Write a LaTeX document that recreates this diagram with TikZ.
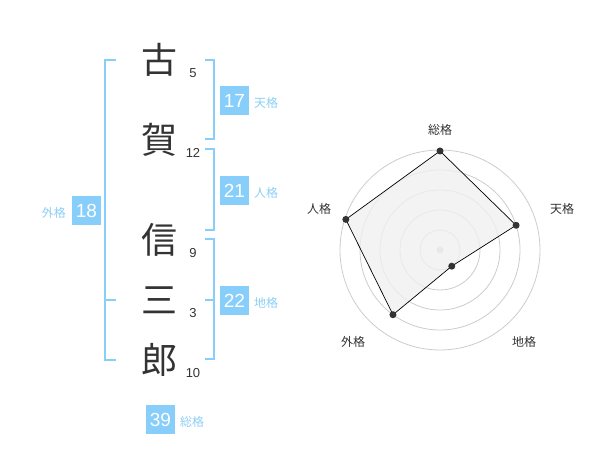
\documentclass[tikz,border=0pt]{standalone}
\usepackage{fontspec}
\usetikzlibrary{calc}
\setmainfont{Liberation Sans}
\newfontfamily\jp{Noto Sans CJK JP}
\definecolor{kblue}{HTML}{87CEFA}
\definecolor{klabel}{HTML}{8CCFF5}
\definecolor{kdark}{HTML}{333333}
\definecolor{kring}{HTML}{CCCCCC}
\definecolor{kfill}{HTML}{F0F0F0}
\tikzset{
  kanji/.style={inner sep=0pt, text=kdark, font=\jp\fontsize{36}{36}\selectfont},
  stroke/.style={inner sep=0pt, text=kdark, font=\fontsize{13}{13}\selectfont},
  sumbox/.style={fill=kblue, text=white, minimum width=29pt, minimum height=29pt, inner sep=0pt, font=\fontsize{19}{19}\selectfont},
  sumlabel/.style={inner sep=0pt, text=klabel, font=\jp\fontsize{12}{12}\selectfont},
  bracket/.style={draw=kblue, line width=2pt},
  ring/.style={draw=kring, line width=0.8pt},
  axislabel/.style={inner sep=0pt, text=kdark, font=\jp\fontsize{12}{12}\selectfont},
  vdot/.style={circle, fill=kdark, inner sep=0pt, minimum size=7pt},
}
\begin{document}
\begin{tikzpicture}[x=1pt,y=-1pt]
\useasboundingbox (0,0) rectangle (600,470);
% kanji
\node[kanji] (k1) at (159,60) {古};
\node[kanji] (k2) at (159,140) {賀};
\node[kanji] (k3) at (159,240) {信};
\node[kanji] (k4) at (159,300) {三};
\node[kanji] (k5) at (159,360) {郎};
% strokes
\node[stroke] (s1) at (193,73) {5};
\node[stroke] (s2) at (193,153) {12};
\node[stroke] (s3) at (193,253) {9};
\node[stroke] (s4) at (193,313) {3};
\node[stroke] (s5) at (193,373) {10};
% brackets
\draw[bracket] (116,60) -- (105,60) -- (105,360) -- (116,360);
\draw[bracket] (105,300) -- (116,300);
\draw[bracket] (205,60) -- (214,60) -- (214,139) -- (205,139);
\draw[bracket] (205,149) -- (214,149) -- (214,230) -- (205,230);
\draw[bracket] (205,239) -- (214,239) -- (214,359) -- (205,359);
\draw[bracket] (214,300) -- (205,300);
% sums
\node[sumbox] (ten) at (234.5,100.5) {17};
\node[sumlabel, anchor=west] (tenl) at (254,103) {天格};
\node[sumbox] (jin) at (234.5,190.5) {21};
\node[sumlabel, anchor=west] (jinl) at (254,193) {人格};
\node[sumbox] (chi) at (234.5,300.5) {22};
\node[sumlabel, anchor=west] (chil) at (254,303) {地格};
\node[sumbox] (gai) at (86.5,210.5) {18};
\node[sumlabel, anchor=east] (gail) at (66,213) {外格};
\node[sumbox] (sou) at (160.5,419.5) {39};
\node[sumlabel, anchor=west] (soul) at (180,422) {総格};
% radar
\coordinate (c) at (440,250);
\foreach \r in {20,40,60,80,100} \draw[ring] (c) circle[radius=\r pt];
\fill[kring] (c) circle[radius=3.5pt];
\coordinate (pS) at ($(c)+(-90:99)$);
\coordinate (pT) at ($(c)+(-18:80)$);
\coordinate (pC) at ($(c)+(54:20)$);
\coordinate (pG) at ($(c)+(126:80)$);
\coordinate (pJ) at ($(c)+(-162:99)$);
\draw[fill=kfill, fill opacity=0.8, draw=black, line width=0.7pt] (pS) -- (pT) -- (pC) -- (pG) -- (pJ) -- cycle;
\foreach \p in {pS,pT,pC,pG,pJ} \node[vdot] at (\p) {};
\node[axislabel] (aS) at (440,130) {総格};
\node[axislabel] (aT) at (562,209) {天格};
\node[axislabel] (aC) at (524,342) {地格};
\node[axislabel] (aG) at (353,342) {外格};
\node[axislabel] (aJ) at (319,209) {人格};
\end{tikzpicture}
\end{document}
